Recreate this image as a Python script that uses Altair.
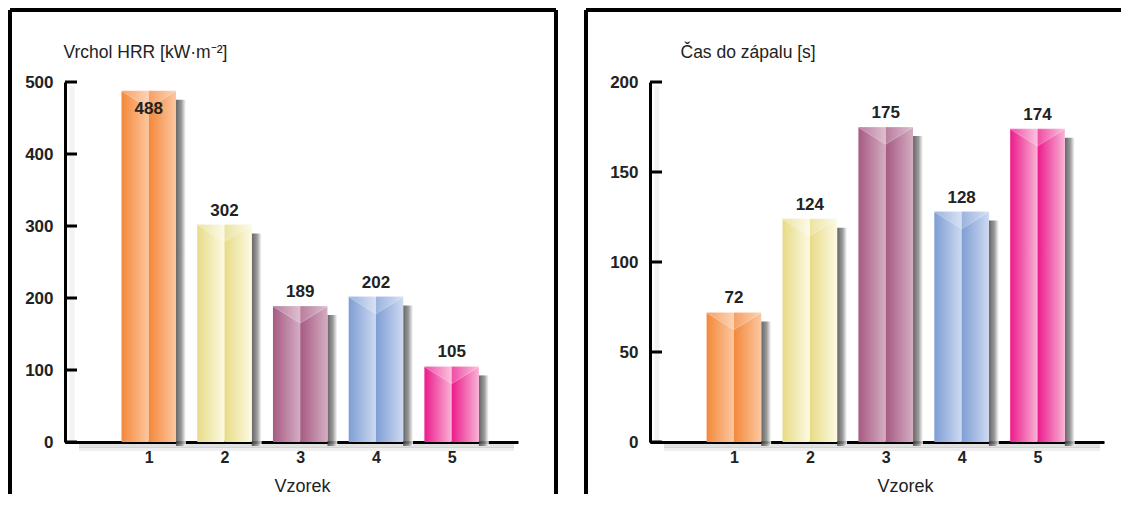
import altair as alt
import pandas as pd

samples = [1, 2, 3, 4, 5]
hrr_values = [488, 302, 189, 202, 105]
tti_values = [72, 124, 175, 128, 174]
hrr_ticks = [0, 100, 200, 300, 400, 500]
tti_ticks = [0, 50, 100, 150, 200]
dark_colors = ["#F3883A", "#E7DB86", "#A65A83", "#7E9ED4", "#EC1A8B"]
light_colors = ["#FCC7A0", "#FCFAE3", "#D4ADC2", "#CDD9F1", "#F8B3D5"]
hrr_title = "Vrchol HRR [kW·m⁻²]"
tti_title = "Čas do zápalu [s]"
x_title = "Vzorek"

FONT = "Liberation Sans, Arial, Helvetica, sans-serif"
TXT = "#222222"
HALF = 0.36
TRI = "M-1,0 L1,0 L0,0.62 Z"


def panel(values, ticks, ymax, title, plot_w, plot_h, title_x, xtitle_x, frame_left, frame_right_x, draw_right):
    df = pd.DataFrame({"s": samples, "v": values})
    base = alt.Chart(df)
    xscale = alt.Scale(domain=[-0.04, 5.81], nice=False, zero=False)
    yscale = alt.Scale(domain=[0, ymax], nice=False)
    xaxis = alt.Axis(
        values=samples, format="d", grid=False, ticks=False, tickSize=0,
        labelFont=FONT, labelFontSize=16, labelFontWeight="bold", labelColor=TXT,
        labelPadding=7, domainColor="black", domainWidth=3,
        title=x_title, titleFont=FONT, titleFontSize=18, titleFontWeight="normal",
        titleColor=TXT, titleX=xtitle_x, titleY=44, titleAlign="center", titleBaseline="middle")
    yaxis = alt.Axis(
        values=ticks, grid=False, ticks=False, tickSize=0,
        labelFont=FONT, labelFontSize=17, labelFontWeight="bold", labelColor=TXT,
        labelPadding=12, domainColor="black", domainWidth=3,
        title=title, titleFont=FONT, titleFontSize=17.5, titleFontWeight="normal",
        titleColor=TXT, titleAngle=0, titleX=title_x, titleY=-30,
        titleAlign="left", titleBaseline="middle")

    def XF(f):
        return alt.X(f, scale=xscale, axis=xaxis, title=x_title)

    def YF(f):
        return alt.Y(f, scale=yscale, axis=yaxis, title=title)

    layers = []
    layers.append(base.mark_bar(opacity=0).encode(x=XF("s:Q"), y=YF("v:Q")))

    one = alt.Data(values=[{}])
    # ground shadow under axis
    for off, op in ((4, 0.22), (7, 0.12)):
        layers.append(alt.Chart(one).mark_rule(
            color="#777777", strokeWidth=4, opacity=op, yOffset=off).encode(
            x=alt.value(14), x2=alt.value(plot_w - 4), y=alt.value(plot_h)))
    # y axis soft shadow
    layers.append(alt.Chart(one).mark_rule(
        color="#999999", strokeWidth=5, opacity=0.12, xOffset=7).encode(
        x=alt.value(0), y=alt.value(4), y2=alt.value(plot_h)))

    # bar shadows
    shadow_grad = alt.Gradient(gradient="linear", x1=0, x2=1, y1=0, y2=0, stops=[
        alt.GradientStop(offset=0, color="#4a4a4a"),
        alt.GradientStop(offset=0.55, color="#8a8a8a"),
        alt.GradientStop(offset=1, color="#ffffff")])
    layers.append(base.transform_calculate(
        a=f"datum.s + {HALF}", b=f"datum.s + {HALF} + 0.13", z="0").mark_bar(
        fill=shadow_grad, opacity=0.85, yOffset=9, y2Offset=4).encode(
        x=XF("a:Q"), x2="b:Q", y=YF("v:Q"), y2=alt.Y2("z:Q")))

    # bar halves
    for i, s in enumerate(samples):
        grad = alt.Gradient(gradient="linear", x1=0, x2=1, y1=0, y2=0, stops=[
            alt.GradientStop(offset=0, color=dark_colors[i]),
            alt.GradientStop(offset=1, color=light_colors[i])])
        for lo, hi in ((f"datum.s - {HALF}", "datum.s"), ("datum.s", f"datum.s + {HALF}")):
            layers.append(base.transform_filter(f"datum.s == {s}").transform_calculate(
                a=lo, b=hi, z="0").mark_bar(fill=grad).encode(
                x=XF("a:Q"), x2="b:Q", y=YF("v:Q"), y2=alt.Y2("z:Q")))

    # top chevron triangles
    layers.append(base.mark_point(shape=TRI, size=3100, filled=True, fill="white",
                                  opacity=0.22, strokeWidth=0).encode(x=XF("s:Q"), y=YF("v:Q")))
    layers.append(base.mark_point(shape=TRI, size=3100, filled=False, stroke="white",
                                  opacity=0.35, strokeWidth=0.8).encode(x=XF("s:Q"), y=YF("v:Q")))

    # inward ticks on y axis
    tdf = pd.DataFrame({"v": ticks})
    layers.append(alt.Chart(tdf).mark_rule(color="black", strokeWidth=3).encode(
        y=YF("v:Q"), x=alt.value(0), x2=alt.value(12)))

    # value labels
    thr = ymax * 0.93
    layers.append(base.transform_filter(f"datum.v <= {thr}").mark_text(
        font=FONT, fontSize=17, fontWeight="bold", color=TXT, baseline="alphabetic", dy=-9).encode(
        x=XF("s:Q"), y=YF("v:Q"), text=alt.Text("v:Q", format="d")))
    layers.append(base.transform_filter(f"datum.v > {thr}").mark_text(
        font=FONT, fontSize=17, fontWeight="bold", color=TXT, baseline="alphabetic", dy=23).encode(
        x=XF("s:Q"), y=YF("v:Q"), text=alt.Text("v:Q", format="d")))

    # frame
    layers.append(alt.Chart(one).mark_rule(color="black", strokeWidth=4).encode(
        x=alt.value(frame_left), y=alt.value(-72), y2=alt.value(412)))
    layers.append(alt.Chart(one).mark_rule(color="black", strokeWidth=4).encode(
        x=alt.value(frame_left), x2=alt.value(frame_right_x),
        y=alt.value(-72)))
    if draw_right:
        layers.append(alt.Chart(one).mark_rule(color="black", strokeWidth=4).encode(
            x=alt.value(frame_right_x), y=alt.value(-72), y2=alt.value(412)))

    return alt.layer(*layers).properties(
        width=plot_w, height=plot_h,
        view=alt.ViewBackground(stroke="transparent", strokeWidth=0))


left = panel(hrr_values, hrr_ticks, 500, hrr_title, 453, 360, -2, 237, -55, 491, True)
right = panel(tti_values, tti_ticks, 200, tti_title, 454, 360, 30, 255, -64, 471, False)

chart = alt.hconcat(left, right, spacing=26).properties(
    padding={"left": 0, "top": 0, "right": 0, "bottom": 0}
).configure_view(stroke="transparent", strokeWidth=0).configure(background="white")

chart.save("out.html", embed_options={"renderer": "svg", "actions": False})
